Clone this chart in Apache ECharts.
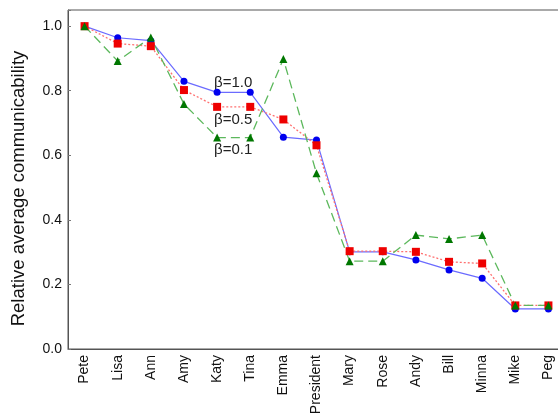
<!DOCTYPE html>
<html>
<head>
<meta charset="utf-8">
<script src="https://cdn.jsdelivr.net/npm/echarts@6/dist/echarts.min.js"></script>
<style>
html,body{margin:0;padding:0;background:#fff;}
#chart{width:558px;height:417px;}
</style>
</head>
<body>
<div id="chart"></div>
<script>
const categories = ['Pete','Lisa','Ann','Amy','Katy','Tina','Emma','President','Mary','Rose','Andy','Bill','Minna','Mike','Peg'];
const beta10 = [1.0,0.964,0.955,0.829,0.795,0.795,0.656,0.647,0.301,0.301,0.276,0.245,0.219,0.124,0.124];
const beta05 = [1.0,0.946,0.938,0.802,0.750,0.750,0.711,0.631,0.303,0.303,0.301,0.270,0.265,0.135,0.135];
const beta01 = [1.0,0.892,0.965,0.759,0.655,0.655,0.898,0.544,0.272,0.272,0.353,0.341,0.353,0.135,0.135];
const yTicks = [0.0,0.2,0.4,0.6,0.8,1.0];

const font = 'Liberation Sans, Arial, sans-serif';
const chart = echarts.init(document.getElementById('chart'));
chart.setOption({
  animation: false,
  grid: {left: 68, top: 10, bottom: 68, right: -7, containLabel: false, outerBoundsMode: 'none',
         show: true, borderColor: '#555', borderWidth: 1, backgroundColor: '#fff'},
  xAxis: {
    type: 'category', data: categories, boundaryGap: true,
    axisLine: {lineStyle: {color: '#555'}},
    axisTick: {inside: true, alignWithLabel: true, length: 3, lineStyle: {color: '#777'}},
    axisLabel: {rotate: 90, color: '#111', fontFamily: font, fontSize: 14, margin: 6, interval: 0}
  },
  yAxis: {
    type: 'value', min: 0, max: 1.05, interval: 0.2,
    name: 'Relative average communicability', nameLocation: 'middle', nameGap: 40,
    nameTextStyle: {fontFamily: font, fontSize: 18.5, color: '#111', padding: [0, 18, 0, 0]},
    splitLine: {show: false},
    axisLine: {show: true, lineStyle: {color: '#555'}},
    axisTick: {show: true, inside: true, length: 3, lineStyle: {color: '#777'}},
    axisLabel: {color: '#111', fontFamily: font, fontSize: 14, margin: 6,
      formatter: v => yTicks.some(t => Math.abs(t - v) < 1e-6) ? v.toFixed(1) : ''}
  },
  series: [
    {name: 'β=1.0', type: 'line', data: beta10, symbol: 'circle', symbolSize: 7,
     lineStyle: {color: '#6b6bff', width: 1.2}, itemStyle: {color: '#0000ee'}},
    {name: 'β=0.5', type: 'line', data: beta05, symbol: 'rect', symbolSize: 8,
     lineStyle: {color: '#ff7070', width: 1.3, type: [2, 2]}, itemStyle: {color: '#ee0000'}},
    {name: 'β=0.1', type: 'line', data: beta01, symbol: 'triangle', symbolSize: 8,
     lineStyle: {color: '#5cb85c', width: 1.3, type: [9, 5]}, itemStyle: {color: '#007700'}}
  ],
  graphic: [
    {type: 'text', left: 214, top: 75, style: {text: 'β=1.0', font: '15px ' + font, fill: '#222'}},
    {type: 'text', left: 214, top: 112, style: {text: 'β=0.5', font: '15px ' + font, fill: '#222'}},
    {type: 'text', left: 214, top: 142, style: {text: 'β=0.1', font: '15px ' + font, fill: '#222'}}
  ]
});
</script>
</body>
</html>
